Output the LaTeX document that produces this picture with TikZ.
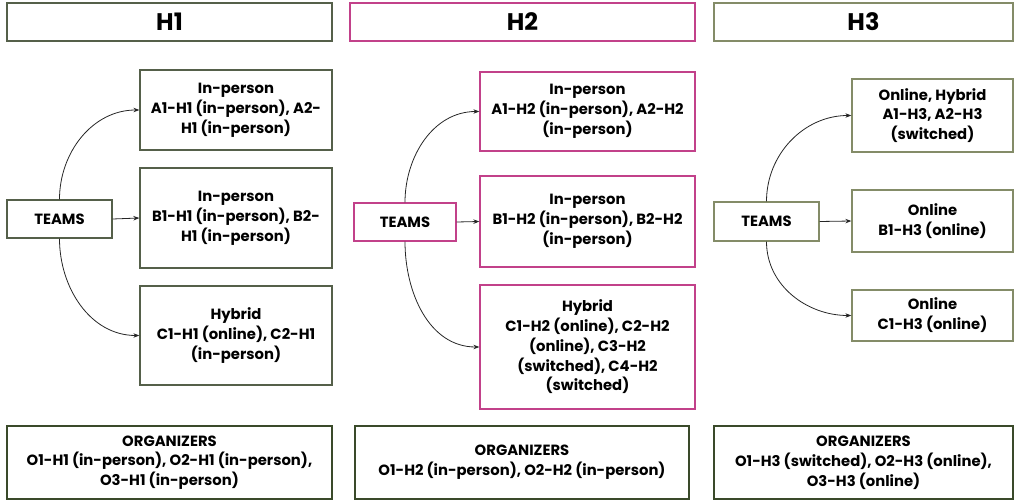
\documentclass[tikz,border=0pt]{standalone}
\usepackage{fontspec}
\setmainfont{Poppins}[BoldFont={Poppins Bold}]
\usetikzlibrary{arrows.meta}
\definecolor{cOne}{HTML}{55604A}
\definecolor{cTwo}{HTML}{C2418A}
\definecolor{cThree}{HTML}{848C68}
\definecolor{cOrg}{HTML}{3A4A2A}
\tikzset{
  box/.style={draw, line width=1.3pt, inner sep=0pt, align=center, fill=white,
    font=\fontsize{14.8}{19.8}\selectfont\bfseries},
  head/.style={box, font=\fontsize{24}{26}\selectfont\bfseries},
  conn/.style={-{Stealth[length=6pt,width=4.5pt]}, line width=0.8pt, black!85},
}
\newcommand{\bx}[6]{\node[box,#1,minimum width=#4pt,minimum height=#5pt] (#2) at (#3) {#6};}
\begin{document}
\begin{tikzpicture}[x=1pt,y=-1pt]
\useasboundingbox (0,0) rectangle (1014,500);
% headers
\node[head,draw=cOne,minimum width=325pt,minimum height=38pt] (h1) at (169.5,22) {H1};
\node[head,draw=cTwo,minimum width=345pt,minimum height=38pt] (h2) at (522.5,22) {H2};
\node[head,draw=cThree,minimum width=299pt,minimum height=38pt] (h3) at (863.5,22) {H3};
% H1
\bx{draw=cOne}{t1}{59.5,219}{105}{38}{TEAMS}
\bx{draw=cOne}{a1}{236,110}{192}{80}{In-person\\A1-H1 (in-person), A2-\\H1 (in-person)}
\bx{draw=cOne}{b1}{236,218}{192}{100}{In-person\\B1-H1 (in-person), B2-\\H1 (in-person)}
\bx{draw=cOne}{c1}{236,335.5}{192}{99}{Hybrid\\C1-H1 (online), C2-H1\\(in-person)}
\bx{draw=cOrg}{o1}{169.5,462.5}{325}{73}{ORGANIZERS\\O1-H1 (in-person), O2-H1 (in-person),\\O3-H1 (in-person)}
% H2
\bx{draw=cTwo}{t2}{405,222}{102}{38}{TEAMS}
\bx{draw=cTwo}{a2}{587.5,111.5}{215}{79}{In-person\\A1-H2 (in-person), A2-H2\\(in-person)}
\bx{draw=cTwo}{b2}{587.5,221.5}{215}{91}{In-person\\B1-H2 (in-person), B2-H2\\(in-person)}
\bx{draw=cTwo}{c2}{587.5,347}{215}{124}{Hybrid\\C1-H2 (online), C2-H2\\(online), C3-H2\\(switched), C4-H2\\(switched)}
\bx{draw=cOrg}{o2}{522,462.5}{334}{73}{ORGANIZERS\\O1-H2 (in-person), O2-H2 (in-person)}
% H3
\bx{draw=cThree}{t3}{766.5,221.5}{105}{39}{TEAMS}
\bx{draw=cThree}{a3}{932.5,115.5}{161}{73}{Online, Hybrid\\A1-H3, A2-H3\\(switched)}
\bx{draw=cThree}{b3}{932.5,221}{161}{62}{Online\\B1-H3 (online)}
\bx{draw=cThree}{c3}{932.5,315.5}{161}{51}{Online\\C1-H3 (online)}
\bx{draw=cOrg}{o3}{863.5,462.5}{299}{73}{ORGANIZERS\\O1-H3 (switched), O2-H3 (online),\\O3-H3 (online)}
% connectors
\foreach \i in {1,2,3}{
  \draw[conn] (t\i.north) to[out=90,in=180] (a\i.west);
  \draw[conn] (t\i.east) -- (b\i.west);
  \draw[conn] (t\i.south) to[out=-90,in=180] (c\i.west);
}
\end{tikzpicture}
\end{document}
